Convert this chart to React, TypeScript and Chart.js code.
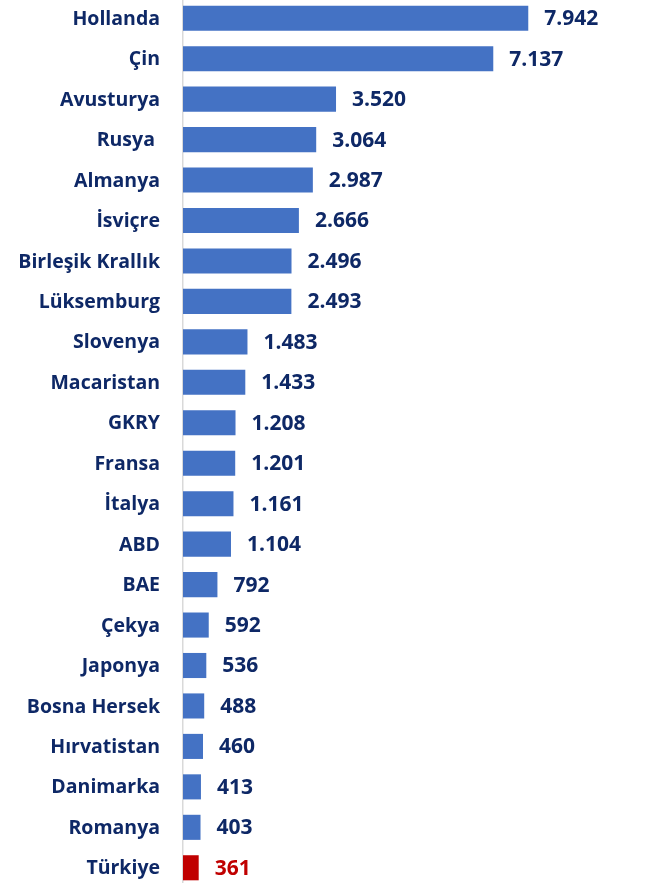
import React, { useEffect, useRef } from "react";
import { Chart, registerables } from "chart.js";

Chart.register(...registerables);

const categories = [
  "Hollanda", "Çin", "Avusturya", "Rusya ", "Almanya", "İsviçre", "Birleşik Krallık",
  "Lüksemburg", "Slovenya", "Macaristan", "GKRY", "Fransa", "İtalya", "ABD", "BAE",
  "Çekya", "Japonya", "Bosna Hersek", "Hırvatistan", "Danimarka", "Romanya", "Türkiye",
];
const values = [
  7942, 7137, 3520, 3064, 2987, 2666, 2496, 2493, 1483, 1433, 1208, 1201, 1161, 1104, 792,
  592, 536, 488, 460, 413, 403, 361,
];
const highlight = "Türkiye";

const BLUE = "#4472C4";
const RED = "#C00000";
const NAVY = "#0E2866";
const FONT = "'Open Sans', sans-serif";

const fmt = (v: number) => String(v).replace(/\B(?=(\d{3})+(?!\d))/g, ".");

const labelsPlugin = {
  id: "labelsPlugin",
  afterDatasetsDraw(chart: any) {
    const ctx = chart.ctx;
    const meta = chart.getDatasetMeta(0);
    const left = chart.chartArea.left;
    ctx.save();
    ctx.textBaseline = "middle";
    meta.data.forEach((bar: any, i: number) => {
      // category label
      ctx.font = `bold 19.5px ${FONT}`;
      ctx.textAlign = "right";
      ctx.fillStyle = NAVY;
      ctx.fillText(categories[i], left - 23, bar.y + 1);
      // value label
      ctx.font = `bold 21px ${FONT}`;
      ctx.textAlign = "left";
      ctx.fillStyle = categories[i] === highlight ? RED : NAVY;
      ctx.fillText(fmt(values[i]), bar.x + 16, bar.y + 1);
    });
    ctx.restore();
  },
};

export default function App() {
  const ref = useRef<HTMLCanvasElement>(null);
  useEffect(() => {
    if (!ref.current) return;
    const chart = new Chart(ref.current, {
      type: "bar",
      data: {
        labels: categories,
        datasets: [
          {
            data: values,
            backgroundColor: categories.map((c) => (c === highlight ? RED : BLUE)),
            barPercentage: 0.62,
            categoryPercentage: 1,
          },
        ],
      },
      options: {
        indexAxis: "y",
        animation: false,
        responsive: false,
        layout: { padding: 0 },
        plugins: { legend: { display: false }, tooltip: { enabled: false } },
        scales: {
          x: { display: false, min: 0, max: 10650 },
          y: {
            afterFit: (s: any) => {
              s.width = 183;
              s.paddingTop = 0;
              s.paddingBottom = 0;
            },
            grid: { display: false, drawTicks: false },
            border: { display: true, color: "#D9D9D9", width: 1.5 },
            ticks: { display: false, padding: 0 },
          },
        },
      },
      plugins: [labelsPlugin],
    });
    return () => chart.destroy();
  }, []);
  return (
    <div style={{ position: "fixed", left: 0, top: -2, width: 646, height: 890, background: "#fff" }}>
      <canvas ref={ref} width={646} height={890} />
    </div>
  );
}
